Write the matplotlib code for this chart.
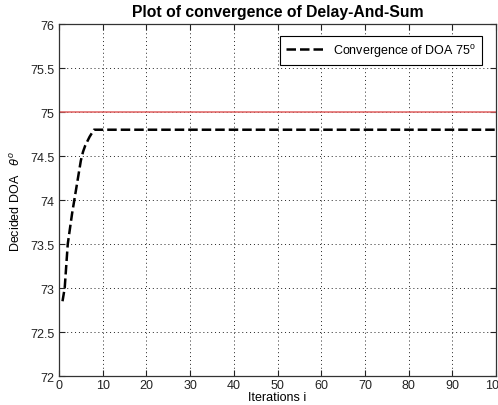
"""Convergence of Delay-And-Sum DOA estimate"""

import matplotlib
matplotlib.use('Agg')
import matplotlib.pyplot as plt
import numpy as np

plt.rcParams['font.family'] = ['Liberation Sans', 'DejaVu Sans']
plt.rcParams['mathtext.fontset'] = 'custom'
plt.rcParams['mathtext.rm'] = 'Liberation Sans'
plt.rcParams['mathtext.it'] = 'Liberation Sans:italic'

iterations = [0.8, 1.3, 2, 3, 4, 5, 5.5, 6, 7, 8, 100]
doa = [72.85, 73.0, 73.5, 73.85, 74.15, 74.45, 74.55, 74.62, 74.72, 74.8, 74.8]
true_doa = 75

x_ticks = np.arange(0, 101, 10)
y_ticks = np.arange(72, 76.01, 0.5)
y_tick_labels = ['72', '72.5', '73', '73.5', '74', '74.5', '75', '75.5', '76']

fig = plt.figure(figsize=(4.98, 4.06), dpi=100)
ax = fig.add_axes([0.1185, 0.0714, 0.8775, 0.8666])

ax.axhline(true_doa, color='#e06060', linewidth=1.1)
ax.plot(iterations, doa, color='k', linewidth=1.8, linestyle=(0, (3.8, 1.6)),
        label='Convergence of DOA 75$^{\\mathrm{o}}$')

ax.set_xlim(0, 100)
ax.set_ylim(72, 76)
ax.set_xticks(x_ticks)
ax.set_yticks(y_ticks)
ax.set_yticklabels(y_tick_labels)
ax.tick_params(direction='in', top=True, right=True, labelsize=9, length=4,
               width=0.8, colors='#222222')
ax.tick_params(axis='x', pad=2)
ax.grid(True, color='#222222', linestyle=(0, (1, 3)), linewidth=0.7)
for s in ax.spines.values():
    s.set_linewidth(0.9)
    s.set_color('#333333')

ax.set_title('Plot of convergence of Delay-And-Sum', fontsize=11.3,
             fontweight='bold', pad=6)
ax.set_xlabel('Iterations i', fontsize=9, labelpad=0)
ax.set_ylabel('Decided DOA   $\\theta^{o}$', fontsize=9, labelpad=5)

leg = ax.legend(loc='upper right', fontsize=9, handlelength=2.95,
                fancybox=False, framealpha=1, edgecolor='k',
                borderpad=0.5, bbox_to_anchor=(0.982, 0.985))
leg.get_frame().set_linewidth(0.8)

fig.savefig('out.png', dpi=100)
